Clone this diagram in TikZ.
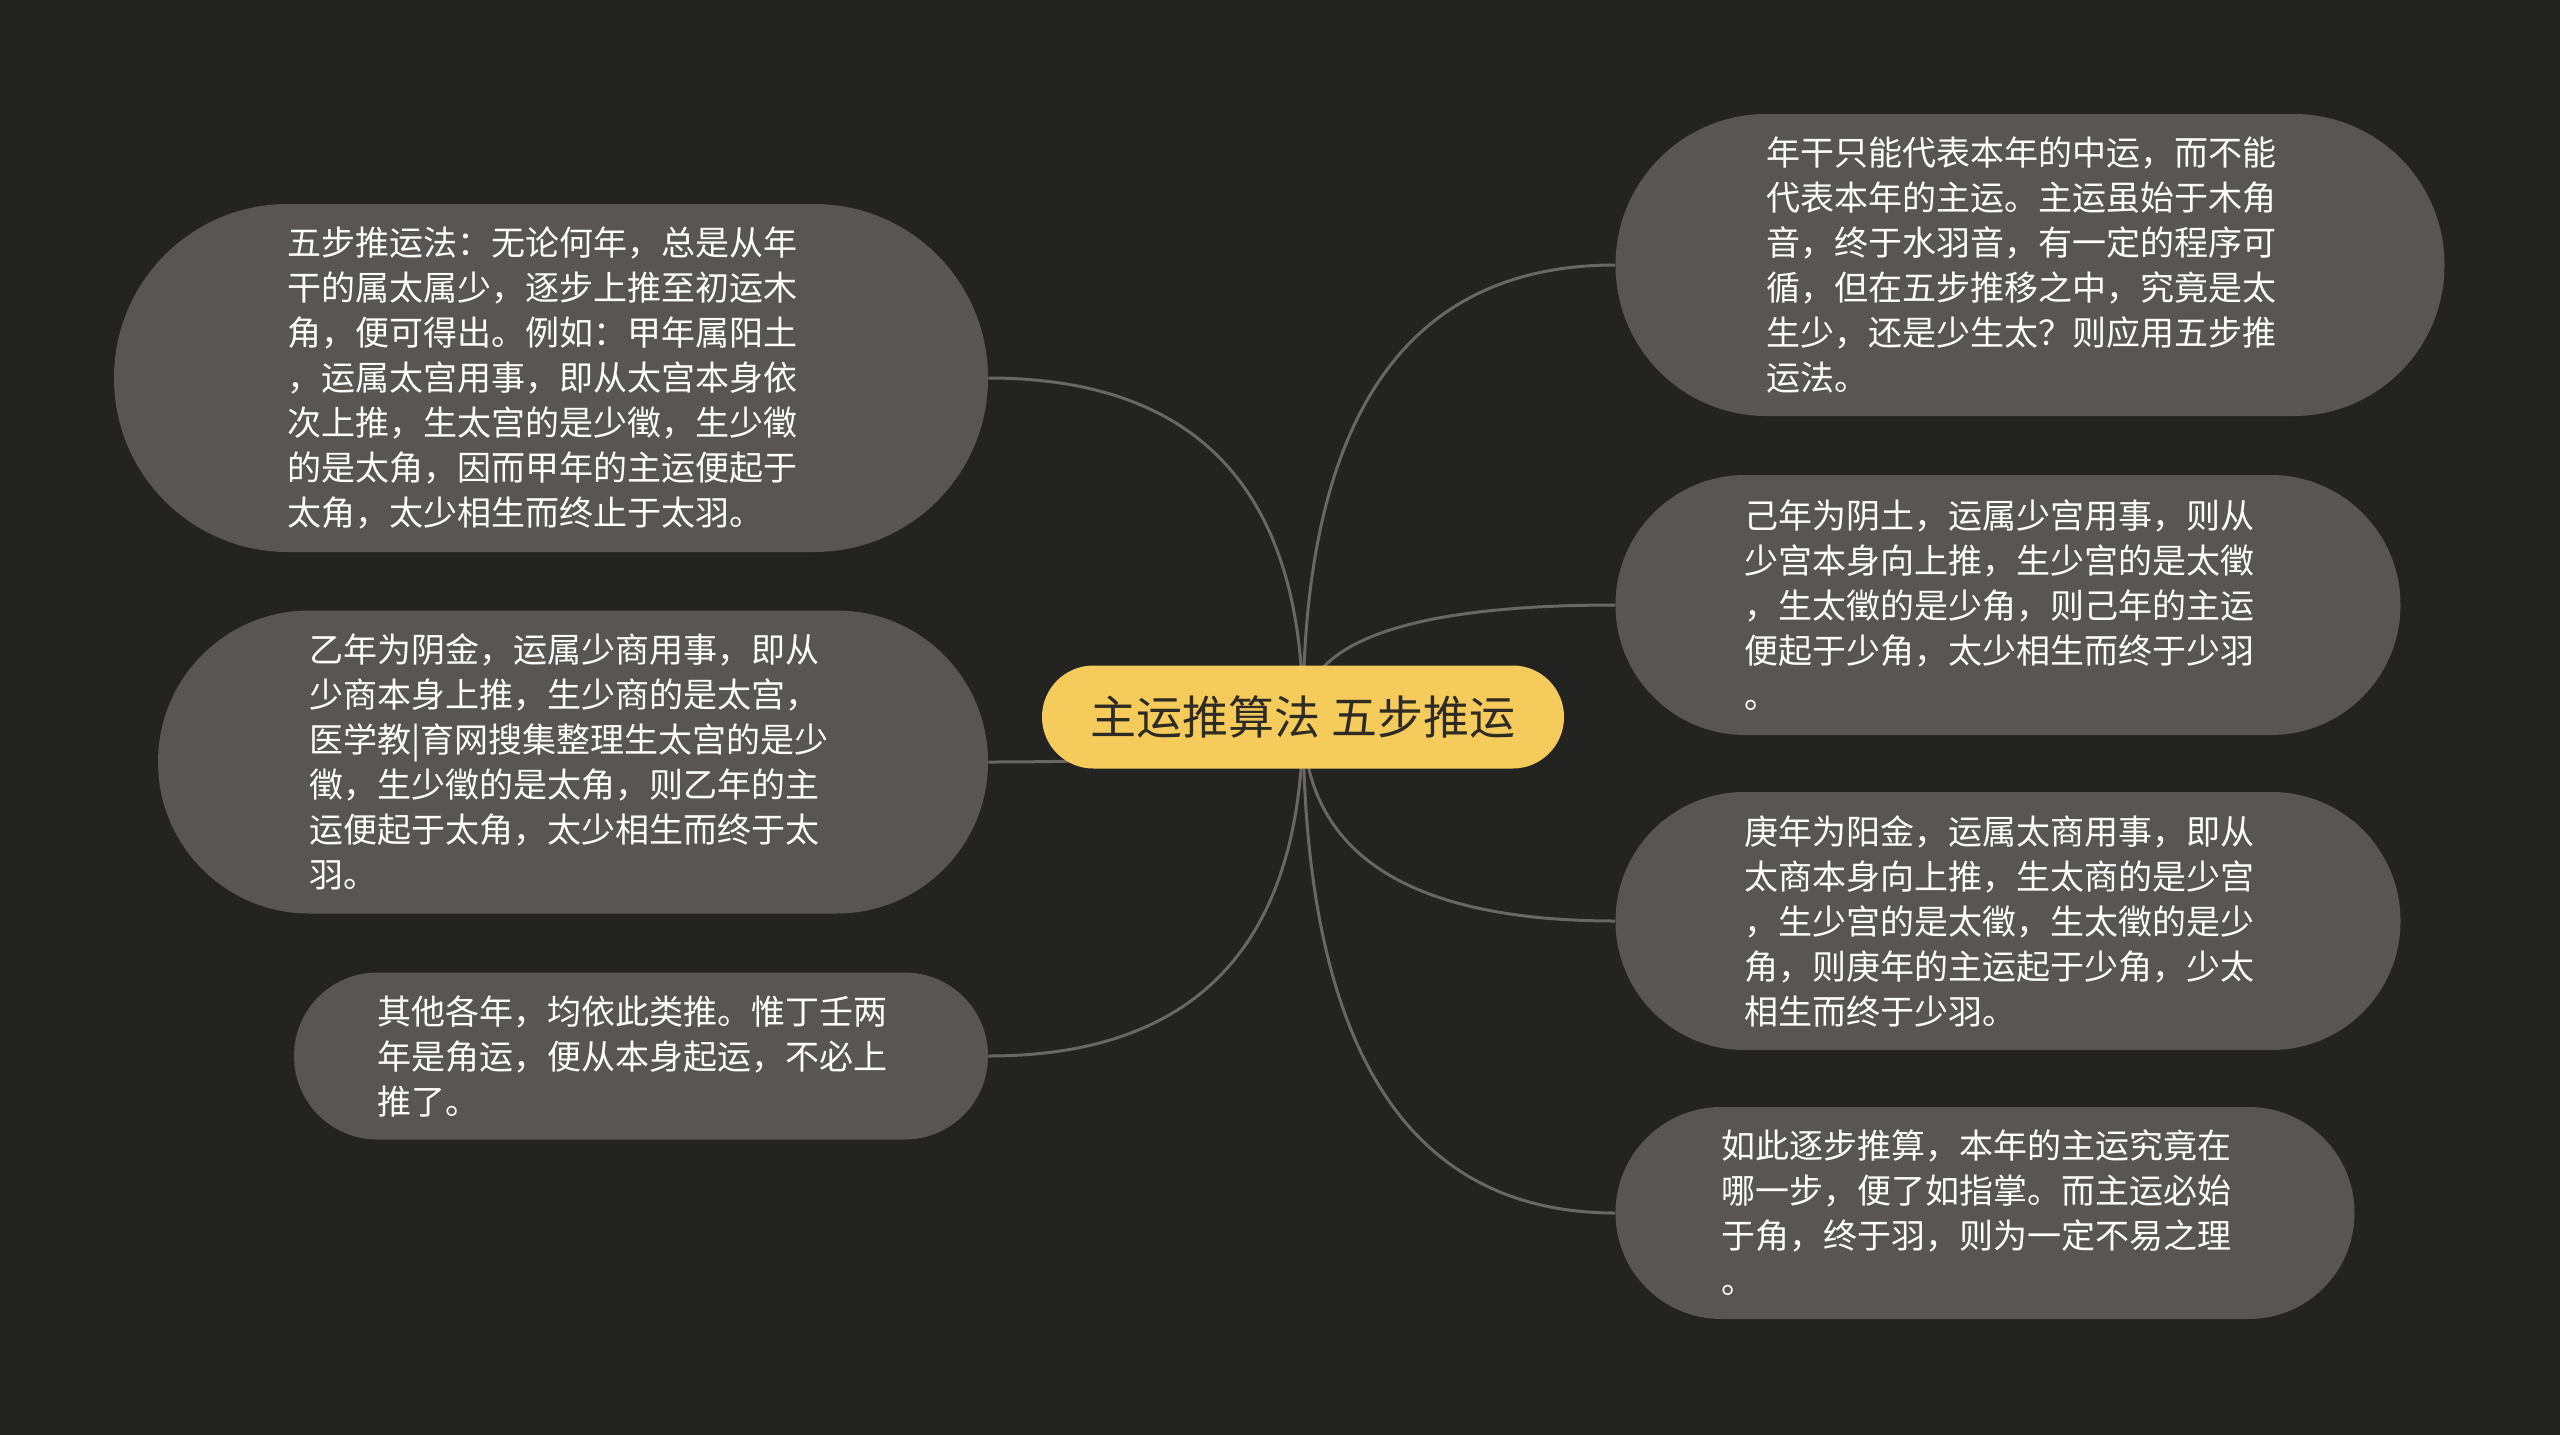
\documentclass[tikz,border=0pt]{standalone}
\usepackage{fontspec}
\newfontfamily\cjk{Noto Sans CJK SC}
\usetikzlibrary{calc,backgrounds}
\definecolor{bgdark}{HTML}{232321}
\definecolor{leafgray}{HTML}{595552}
\definecolor{linegray}{HTML}{686766}
\definecolor{rootyellow}{HTML}{F5CB5C}
\definecolor{roottext}{HTML}{2E2B22}
\tikzset{
  leaf/.style 2 args={fill=leafgray, text=white, minimum width=#1, minimum height=#2,
    rounded corners=#2*0.499, text width=395pt, align=left, inner xsep=0pt,
    font=\cjk\fontsize{25.5}{33.75}\selectfont},
  root/.style={fill=rootyellow, text=roottext, minimum width=391.5pt, minimum height=77.25pt,
    rounded corners=38.5pt, font=\cjk\fontsize{34.5}{40}\selectfont},
  branch/.style={draw=linegray, line width=2.25pt}
}
\begin{document}
\begin{tikzpicture}[x=0.75pt,y=0.75pt,yscale=-1,xscale=1]
\useasboundingbox (0,0) rectangle (2560,1435);

% centre
\node[root] (root) at (1303,717) {主运推算法 五步推运};

% left side
\node[leaf={655.5pt}{261pt}] (l1) at (551,378) {五步推运法：无论何年，总是从年\\干的属太属少，逐步上推至初运木\\角，便可得出。例如：甲年属阳土\\，运属太宫用事，即从太宫本身依\\次上推，生太宫的是少徵，生少徵\\的是太角，因而甲年的主运便起于\\太角，太少相生而终止于太羽。};
\node[leaf={622.5pt}{227.25pt}] (l2) at (573,762) {乙年为阴金，运属少商用事，即从\\少商本身上推，生少商的是太宫，\\医学教|育网搜集整理生太宫的是少\\徵，生少徵的是太角，则乙年的主\\运便起于太角，太少相生而终于太\\羽。};
\node[leaf={520.5pt}{125.25pt}] (l3) at (641,1056) {其他各年，均依此类推。惟丁壬两\\年是角运，便从本身起运，不必上\\推了。};

% right side
\node[leaf={621.75pt}{226.5pt}] (r1) at (2030,265) {年干只能代表本年的中运，而不能\\代表本年的主运。主运虽始于木角\\音，终于水羽音，有一定的程序可\\循，但在五步推移之中，究竟是太\\生少，还是少生太？则应用五步推\\运法。};
\node[leaf={588.75pt}{195pt}] (r2) at (2008,605) {己年为阴土，运属少宫用事，则从\\少宫本身向上推，生少宫的是太徵\\，生太徵的是少角，则己年的主运\\便起于少角，太少相生而终于少羽\\。};
\node[leaf={588.75pt}{193.5pt}] (r3) at (2008,921) {庚年为阳金，运属太商用事，即从\\太商本身向上推，生太商的是少宫\\，生少宫的是太徵，生太徵的是少\\角，则庚年的主运起于少角，少太\\相生而终于少羽。};
\node[leaf={554.25pt}{159pt}] (r4) at (1985,1213) {如此逐步推算，本年的主运究竟在\\哪一步，便了如指掌。而主运必始\\于角，终于羽，则为一定不易之理\\。};

% connectors
\begin{scope}[on background layer]
\fill[bgdark] (0,0) rectangle (2560,1435);
\foreach \b in {l1,l2,l3}
  \draw[branch] (root.center) .. controls ($(root.center)!2/3!(root.center |- \b.east)$) and ($(\b.east)!2/3!(root.center |- \b.east)$) .. (\b.east);
\foreach \b in {r1,r2,r3,r4}
  \draw[branch] (root.center) .. controls ($(root.center)!2/3!(root.center |- \b.west)$) and ($(\b.west)!2/3!(root.center |- \b.west)$) .. (\b.west);
\end{scope}

\end{tikzpicture}
\end{document}
